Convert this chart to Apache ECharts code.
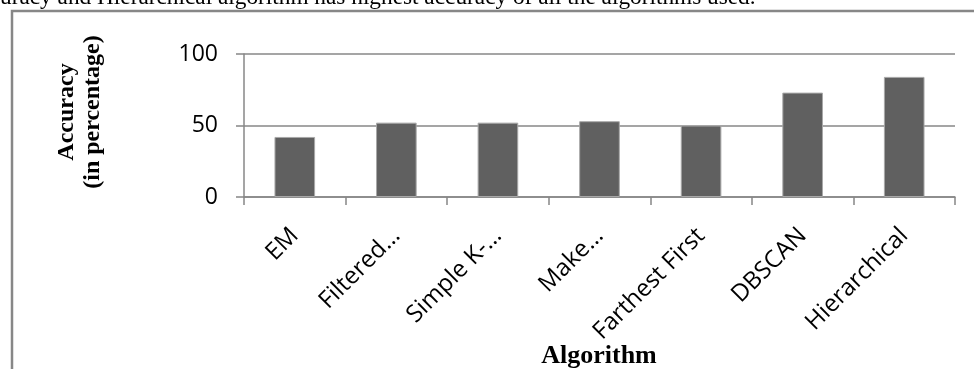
<!DOCTYPE html>
<html>
<head>
<meta charset="utf-8">
<script src="https://cdn.jsdelivr.net/npm/echarts@6/dist/echarts.min.js"></script>
<style>
html,body{margin:0;padding:0;background:#fff;}
#chart{width:974px;height:369px;}
</style>
</head>
<body>
<div id="chart"></div>
<script>
var categories = ['EM', 'Filtered…', 'Simple K-…', 'Make…', 'Farthest First', 'DBSCAN', 'Hierarchical'];
var accuracy = [42, 52, 52, 53, 50, 73, 84];
var yTicks = [0, 50, 100];
var yTitle = ['Accuracy', '(in percentage)'];
var xTitle = 'Algorithm';
var caption = 'uracy and Hierarchical algorithm has highest accuracy of all the algorithms used.';

var gray = '#878787';
var chart = echarts.init(document.getElementById('chart'), null, {renderer: 'canvas'});
chart.setOption({
  backgroundColor: '#fff',
  animation: false,
  grid: {left: 244, right: 19, top: 54, bottom: 172, containLabel: false},
  xAxis: {
    type: 'category',
    data: categories,
    axisLine: {lineStyle: {color: gray, width: 1.5}},
    axisTick: {show: true, length: 8, lineStyle: {color: gray, width: 1.5}},
    axisLabel: {
      rotate: 45, margin: 35, interval: 0,
      verticalAlign: 'middle', padding: [7, 0, 0, 0],
      fontFamily: 'Open Sans', fontSize: 24, color: '#000'
    }
  },
  yAxis: {
    type: 'value',
    min: yTicks[0], max: yTicks[yTicks.length - 1], interval: yTicks[1] - yTicks[0],
    axisLine: {show: true, lineStyle: {color: gray, width: 1.5}},
    axisTick: {show: true, length: 8, lineStyle: {color: gray, width: 1.5}},
    splitLine: {show: true, lineStyle: {color: gray, width: 1.5}},
    axisLabel: {margin: 26, fontFamily: 'Open Sans', fontSize: 23, color: '#000'}
  },
  series: [{
    type: 'bar',
    data: accuracy,
    barWidth: '40%',
    itemStyle: {color: '#606060', borderColor: '#a8a8a8', borderWidth: 1}
  }],
  graphic: [
    {type: 'rect', shape: {x: 12, y: 11, width: 1100, height: 500},
     style: {fill: 'none', stroke: gray, lineWidth: 2.5}, z: 0},
    {type: 'text', x: 0, y: 9,
     style: {text: caption, font: '23.3px "Liberation Serif"', fill: '#000',
              textAlign: 'left', textVerticalAlign: 'bottom'}},
    {type: 'text', x: 80, y: 112, rotation: Math.PI / 2,
     style: {text: yTitle.join('\n'), font: 'bold 24px "Liberation Serif"', fill: '#000',
             textAlign: 'center', textVerticalAlign: 'middle', lineHeight: 26}},
    {type: 'text', x: 599, y: 369,
     style: {text: xTitle, font: 'bold 26px "Liberation Serif"', fill: '#000',
             textAlign: 'center', textVerticalAlign: 'bottom'}}
  ]
});
</script>
</body>
</html>
